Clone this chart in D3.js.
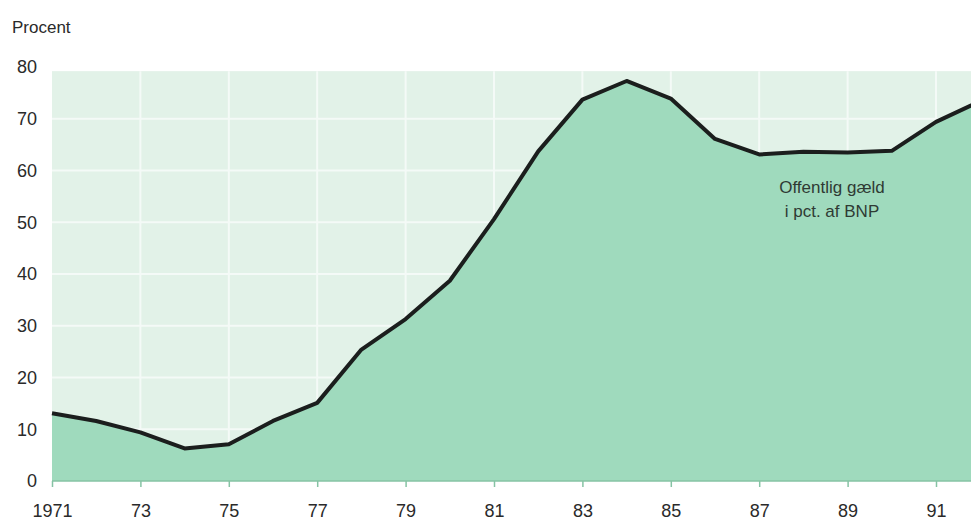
<!DOCTYPE html>
<html>
<head>
<meta charset="utf-8">
<script src="https://cdn.jsdelivr.net/npm/d3@7"></script>
<style>
  body { margin: 0; background: #fff; }
  svg { display: block; font-family: "Liberation Sans", Arial, sans-serif; }
</style>
</head>
<body>
<svg id="chart" width="971" height="521"></svg>
<script>
// Offentlig gæld i pct. af BNP, 1971-1992
const years = [1971, 1972, 1973, 1974, 1975, 1976, 1977, 1978, 1979, 1980, 1981,
               1982, 1983, 1984, 1985, 1986, 1987, 1988, 1989, 1990, 1991, 1992];
const debt = [13.1, 11.6, 9.4, 6.3, 7.1, 11.6, 15.1, 25.4, 31.3, 38.7, 50.6,
              63.7, 73.7, 77.3, 73.9, 66.1, 63.1, 63.6, 63.5, 63.8, 69.4, 73.4];
const xTicks = [1971, 1973, 1975, 1977, 1979, 1981, 1983, 1985, 1987, 1989, 1991];
const yTicks = [0, 10, 20, 30, 40, 50, 60, 70, 80];
const label = ["Offentlig gæld", "i pct. af BNP"];

const svg = d3.select("#chart");
const W = 971;

const x = d3.scaleLinear().domain([1971, 1992]).range([52, 52 + 21 * 44.2]);
const y = d3.scaleLinear().domain([0, 80]).range([481, 67]);

const data = years.map((yr, i) => ({year: yr, value: debt[i]}));

// pale panel background
svg.append("rect")
    .attr("x", x(1971))
    .attr("y", y(79.2))
    .attr("width", W - x(1971))
    .attr("height", y(0) - y(79.2))
    .attr("fill", "#e2f2e8");

// white grid
const grid = svg.append("g").attr("stroke", "#fff").attr("stroke-width", 2).attr("opacity", 0.65);
grid.selectAll(".h").data(yTicks.filter(d => d > 0 && d < 80)).enter()
    .append("line")
        .attr("x1", x(1971)).attr("x2", W)
        .attr("y1", d => y(d)).attr("y2", d => y(d));
grid.selectAll(".v").data(xTicks.slice(1)).enter()
    .append("line")
        .attr("x1", d => x(d)).attr("x2", d => x(d))
        .attr("y1", y(79.2)).attr("y2", y(0));

// area under curve
const area = d3.area()
    .x(d => x(d.year))
    .y0(y(0))
    .y1(d => y(d.value));
svg.append("path")
    .datum(data)
    .attr("d", area)
    .attr("fill", "#9fdabd");

// the line
const line = d3.line().x(d => x(d.year)).y(d => y(d.value));
svg.append("path")
    .datum(data)
    .attr("d", line)
    .attr("fill", "none")
    .attr("stroke", "#1b1e1d")
    .attr("stroke-width", 4)
    .attr("stroke-linejoin", "round");

// x axis
const xAxis = d3.axisBottom(x)
    .tickValues(xTicks)
    .tickSize(6)
    .tickFormat(d => d === 1971 ? "1971" : String(d).slice(2));
const gx = svg.append("g")
    .attr("transform", "translate(0," + y(0) + ")")
    .call(xAxis);
gx.select(".domain").remove();
gx.append("line")
    .attr("x1", x(1971)).attr("x2", W)
    .attr("stroke", "#86c3a4").attr("stroke-width", 1.5);
gx.selectAll(".tick line").attr("stroke", "#86c3a4").attr("stroke-width", 1.5);
gx.selectAll(".tick text")
    .attr("y", 23)
    .attr("dy", "0.71em")
    .attr("fill", "#2a2a2a")
    .style("font-size", "18px");

// y axis
const gy = svg.append("g")
    .attr("transform", "translate(37,0)")
    .call(d3.axisLeft(y).tickValues(yTicks).tickSize(0));
gy.select(".domain").remove();
gy.selectAll(".tick text")
    .attr("x", 0)
    .attr("fill", "#2a2a2a")
    .style("font-size", "18px");

// unit label
svg.append("text")
    .attr("x", 12)
    .attr("y", 33)
    .attr("fill", "#2a2a2a")
    .style("font-size", "17px")
    .text("Procent");

// annotation
svg.append("text")
    .attr("x", 832)
    .attr("y", 193)
    .attr("text-anchor", "middle")
    .attr("fill", "#2f3a34")
    .style("font-size", "17px")
    .selectAll("tspan")
    .data(label).enter()
    .append("tspan")
        .attr("x", 832)
        .attr("dy", (d, i) => i === 0 ? 0 : 24)
        .text(d => d);
</script>
</body>
</html>
